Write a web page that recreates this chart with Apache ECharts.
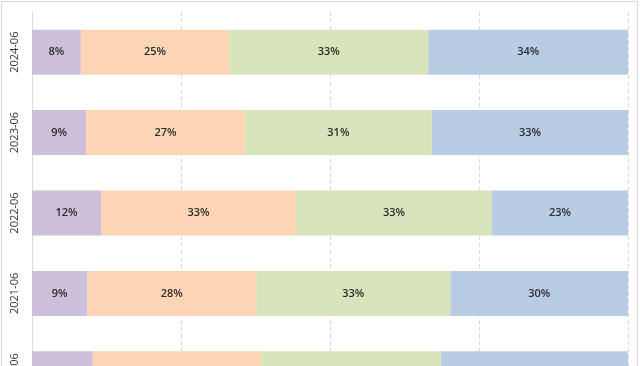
<!DOCTYPE html>
<html><head><meta charset="utf-8">
<script src="https://cdn.jsdelivr.net/npm/echarts@6/dist/echarts.min.js"></script>
<style>html,body{margin:0;padding:0;background:#fff;}#c{width:640px;height:366px;}</style>
</head><body><div id="c"></div>
<script>
var categories = ['2024-06', '2023-06', '2022-06', '2021-06', '2020-06'];
var seriesA = [8.2, 9.1, 11.6, 9.3, 10.2];
var seriesB = [24.9, 26.6, 32.7, 28.3, 28.2];
var seriesC = [33.4, 31.4, 32.9, 32.6, 30.2];
var seriesD = [33.5, 32.9, 22.8, 29.8, 31.4];
var colors = ['#CCC0DA', '#FCD5B4', '#D8E4BC', '#B8CCE4'];
var tickValues = [0, 25, 50, 75, 100];

var chart = echarts.init(document.getElementById('c'));
function mk(name, data, color) {
  return {
    name: name, type: 'bar', stack: 'all', data: data, barWidth: '56%',
    itemStyle: { color: color },
    label: { show: true, position: 'inside', color: '#2b2b2b', fontSize: 11,
      fontFamily: 'Open Sans', fontWeight: 600,
      formatter: function (p) { return Math.round(p.value) + '%'; } }
  };
}
chart.setOption({
  animation: false,
  grid: { left: 32, width: 596, top: 12, height: 402, containLabel: false, outerBoundsMode: 'none' },
  xAxis: { type: 'value', min: tickValues[0], max: tickValues[tickValues.length - 1], interval: 25,
    axisLabel: { show: false }, axisLine: { show: false }, axisTick: { show: false },
    splitLine: { show: true, lineStyle: { color: '#d9d9d9', type: [4, 3], width: 1 } } },
  yAxis: { type: 'category', data: categories, inverse: true,
    axisLine: { show: true, lineStyle: { color: '#d9d9d9' } }, axisTick: { show: false },
    axisLabel: { rotate: 90, color: '#333', fontSize: 11, fontFamily: 'Open Sans', margin: 12 } },
  graphic: [{ type: 'rect', shape: { x: 1.5, y: 1.5, width: 636, height: 380 },
    style: { fill: 'none', stroke: '#d9d9d9', lineWidth: 1 }, silent: true }],
  series: [mk('A', seriesA, colors[0]), mk('B', seriesB, colors[1]), mk('C', seriesC, colors[2]), mk('D', seriesD, colors[3])]
});
</script></body></html>
